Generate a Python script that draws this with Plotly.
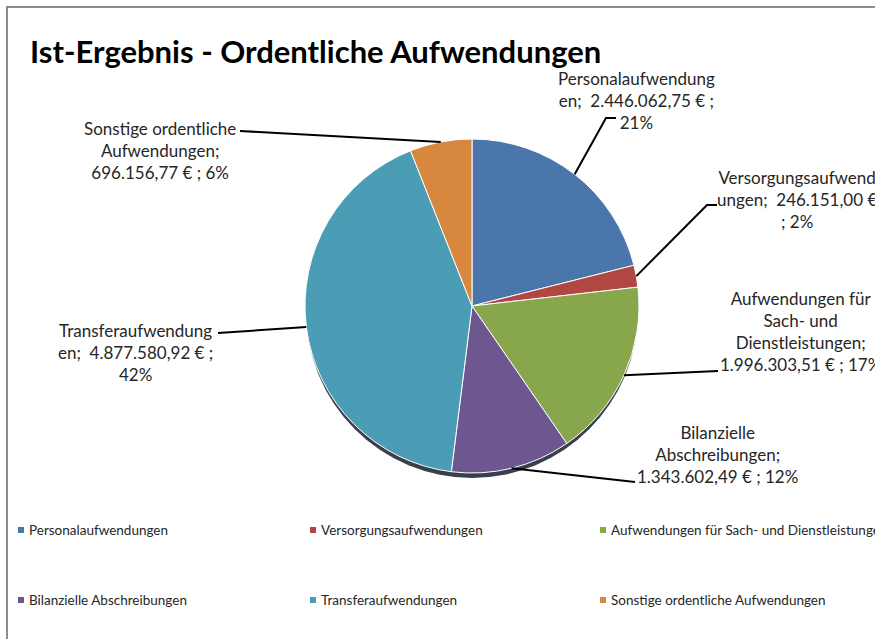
import math
import plotly.graph_objects as go

# data
categories = [
    "Personalaufwendungen",
    "Versorgungsaufwendungen",
    "Aufwendungen für Sach- und Dienstleistungen",
    "Bilanzielle Abschreibungen",
    "Transferaufwendungen",
    "Sonstige ordentliche Aufwendungen",
]
values = [2446062.75, 246151.00, 1996303.51, 1343602.49, 4877580.92, 696156.77]
percent_labels = ["21%", "2%", "17%", "12%", "42%", "6%"]
value_labels = ["2.446.062,75 €", "246.151,00 €", "1.996.303,51 €",
                "1.343.602,49 €", "4.877.580,92 €", "696.156,77 €"]

colors = ["#4A76AB", "#B24643", "#88A74C", "#6E5690", "#4A9DB4", "#D8873F"]

W, H = 875, 639
FONT = "Lato"


def px(x):
    return x / W


def py(y):
    return 1 - y / H


# pie placement (pixels)
cx, cy, r = 472, 306, 167

# label texts (wrapped like the original) and where they sit
label_texts = [
    "Personalaufwendung<br>en;  " + value_labels[0] + " ;<br>" + percent_labels[0],
    "Versorgungsaufwend<br>ungen;  " + value_labels[1] + "<br>; " + percent_labels[1],
    "Aufwendungen für<br>Sach- und<br>Dienstleistungen;<br>" + value_labels[2] + " ; " + percent_labels[2],
    "Bilanzielle<br>Abschreibungen;<br>" + value_labels[3] + " ; " + percent_labels[3],
    "Transferaufwendung<br>en;  " + value_labels[4] + " ;<br>" + percent_labels[4],
    "Sonstige ordentliche<br>Aufwendungen;<br>" + value_labels[5] + " ; " + percent_labels[5],
]
label_pos = [(636, 100), (797, 199), (800, 332), (717, 455), (135, 352), (160, 150)]
# where each leader line meets its label
leader_ends = [
    [(616, 118), (606, 118)],
    [(717, 205), (707, 205)],
    [(718, 371)],
    [(635, 482)],
    [(218, 333)],
    [(240, 131)],
]

fig = go.Figure()
fig.add_trace(go.Pie(
    labels=categories,
    values=values,
    sort=False,
    direction="clockwise",
    rotation=0,
    textinfo="none",
    hoverinfo="label+value+percent",
    marker=dict(colors=colors, line=dict(color="white", width=1)),
    domain=dict(x=[px(cx - r), px(cx + r)], y=[py(cy + r), py(cy - r)]),
    showlegend=False,
))

shapes = []
# chart frame
shapes.append(dict(type="rect", xref="paper", yref="paper",
                   x0=px(7), x1=px(W + 20), y0=py(7), y1=py(H + 20),
                   line=dict(color="#8c8c8c", width=2), layer="below"))
# dark rim under the pie (3d look)
shapes.append(dict(type="circle", xref="paper", yref="paper",
                   x0=px(cx - r + 1), x1=px(cx + r - 1), y0=py(cy + r + 5), y1=py(cy - r + 5),
                   fillcolor="#3a3f4f", line=dict(width=0), layer="below"))

# leader lines from slice middles to labels
total = sum(values)
cum = 0
for i, v in enumerate(values):
    mid = (cum + v / 2) / total * 2 * math.pi
    cum += v
    ex = cx + r * math.sin(mid)
    ey = cy - r * math.cos(mid)
    path_pts = [(ex, ey)] + leader_ends[i][::-1]
    path = "M " + " L ".join(f"{px(x):.5f},{py(y):.5f}" for x, y in path_pts)
    shapes.append(dict(type="path", xref="paper", yref="paper", path=path,
                       line=dict(color="black", width=2)))

annotations = []
for text, (lx, ly) in zip(label_texts, label_pos):
    annotations.append(dict(
        x=px(lx), y=py(ly), xref="paper", yref="paper", text=text,
        showarrow=False, align="center", xanchor="center", yanchor="middle",
        font=dict(family=FONT, size=17, color="#262626"),
    ))

# legend drawn by hand (3 columns, 2 rows)
leg_x = [18, 310, 600]
leg_y = [530, 600]
for i, name in enumerate(categories):
    lx = leg_x[i % 3]
    ly = leg_y[i // 3]
    shapes.append(dict(type="rect", xref="paper", yref="paper",
                       x0=px(lx), x1=px(lx + 6), y0=py(ly + 3), y1=py(ly - 3),
                       fillcolor=colors[i], line=dict(width=0)))
    annotations.append(dict(
        x=px(lx + 9), y=py(ly), xref="paper", yref="paper", text=name,
        showarrow=False, xanchor="left", yanchor="middle",
        font=dict(family=FONT, size=13.5, color="#262626"),
    ))

fig.update_layout(
    width=W,
    height=H,
    margin=dict(l=0, r=0, t=0, b=0),
    paper_bgcolor="white",
    plot_bgcolor="white",
    title=dict(text="<b>Ist-Ergebnis - Ordentliche Aufwendungen</b>",
               x=px(30), xanchor="left", y=py(52), yanchor="middle",
               font=dict(family=FONT, size=31, color="black")),
    shapes=shapes,
    annotations=annotations,
)

# page has a default body margin; drop it so the chart fills the window
fig.write_html("out.html", config={"displayModeBar": False},
               post_script="document.body.style.margin='0';document.body.style.overflow='hidden';")
